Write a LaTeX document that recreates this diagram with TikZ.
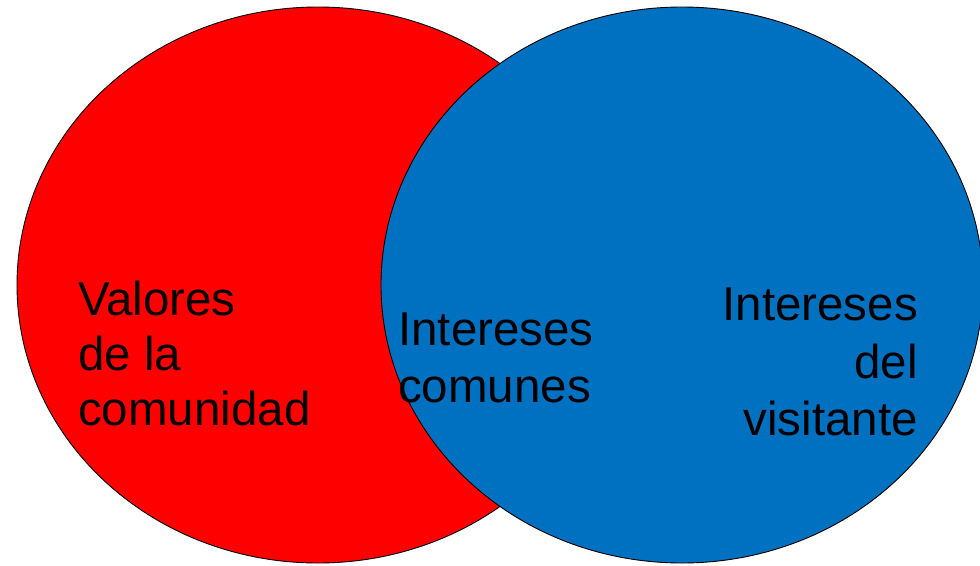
\documentclass[tikz,border=0pt]{standalone}
\usepackage{fontspec}
\setmainfont{Liberation Sans}
\usepackage{tikz}
\definecolor{comunidad}{RGB}{255,0,0}
\definecolor{visitante}{RGB}{0,112,192}
\tikzset{
    circulo/.style={draw=black, line width=0.9pt},
    texto/.style={inner sep=0pt, font=\fontsize{47.5}{55}\selectfont}
}

\begin{document}
\begin{tikzpicture}[x=1pt, y=-1pt]
            \useasboundingbox (0, 0) rectangle (980, 565);
            \fill[white] (0, 0) rectangle (980, 565);
            \draw[circulo, fill=comunidad] (318, 285) ellipse [x radius=301pt, y radius=278pt];
            \draw[circulo, fill=visitante] (682, 285) ellipse [x radius=301pt, y radius=278pt];
            \node[texto, anchor=north west, align=left] (valores) at (78, 281) {Valores\\de la\\comunidad};
            \node[texto, anchor=north west, align=left, font=\fontsize{47.5}{57}\selectfont] (comunes) at (398, 313) {Intereses\\comunes};
            \node[texto, anchor=north east, align=right, font=\fontsize{47.5}{57.5}\selectfont] (intereses) at (918, 288) {Intereses\\del\\visitante};
        \end{tikzpicture}
\end{document}
